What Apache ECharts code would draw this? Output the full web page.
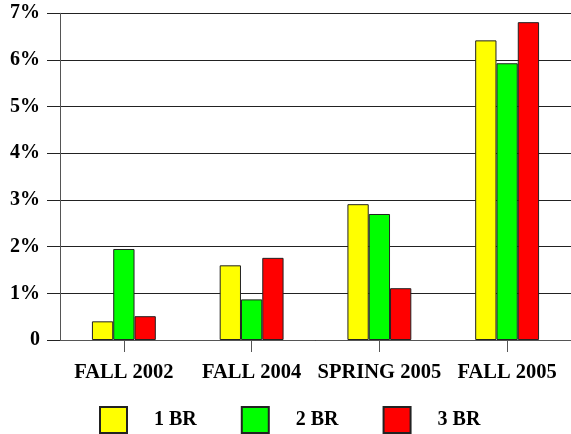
<!DOCTYPE html>
<html><head><meta charset="utf-8">
<script src="https://cdn.jsdelivr.net/npm/echarts@6/dist/echarts.min.js"></script>
<style>html,body{margin:0;padding:0;background:#fff}#c{width:571px;height:434px}</style>
</head><body><div id="c"></div>
<script>
const categories = ['FALL 2002', 'FALL 2004', 'SPRING 2005', 'FALL 2005'];
const seriesNames = ['1 BR', '2 BR', '3 BR'];
const br1 = [0.40, 1.60, 2.91, 6.42];
const br2 = [1.95, 0.87, 2.70, 5.93];
const br3 = [0.51, 1.76, 1.11, 6.81];
const colors = ['#ffff00', '#00ff00', '#ff0000'];
const yTicks = ['0', '1%', '2%', '3%', '4%', '5%', '6%', '7%'];

const font = 'Liberation Serif';
const chart = echarts.init(document.getElementById('c'), null, {renderer: 'canvas'});
const data = [br1, br2, br3];
chart.setOption({
  animation: false,
  grid: {left: 60, right: -5, top: 13.3, bottom: 94, containLabel: false},
  legend: {
    left: 99, top: 406, padding: 0,
    itemWidth: 27, itemHeight: 26, itemGap: 44,
    icon: 'rect',
    textStyle: {fontFamily: font, fontWeight: 'bold', fontSize: 20, color: '#000', padding: [0, 0, 0, 22]},
    data: seriesNames
  },
  xAxis: {
    type: 'category', data: categories,
    axisLine: {show: true, lineStyle: {color: '#555', width: 1}},
    axisTick: {show: true, alignWithLabel: true, interval: 0, length: 12, lineStyle: {color: '#555', width: 1}},
    axisLabel: {interval: 0, fontFamily: font, fontWeight: 'bold', fontSize: 20.5, color: '#000', margin: 22},
    splitLine: {show: false}
  },
  yAxis: {
    type: 'value', min: 0, max: 7, interval: 1,
    axisLine: {show: true, lineStyle: {color: '#555', width: 1}},
    axisTick: {show: true, length: 13, lineStyle: {color: '#222'}},
    axisLabel: {fontFamily: font, fontWeight: 'bold', fontSize: 20, color: '#000', margin: 20,
      formatter: v => yTicks[Math.round(v)]},
    splitLine: {show: true, lineStyle: {color: '#222', width: 1}}
  },
  series: seriesNames.map((n, i) => ({
    name: n, type: 'bar', data: data[i],
    barWidth: 21.3, barGap: '0%',
    itemStyle: {color: colors[i], borderColor: '#222', borderWidth: 1}
  }))
});
</script></body></html>
